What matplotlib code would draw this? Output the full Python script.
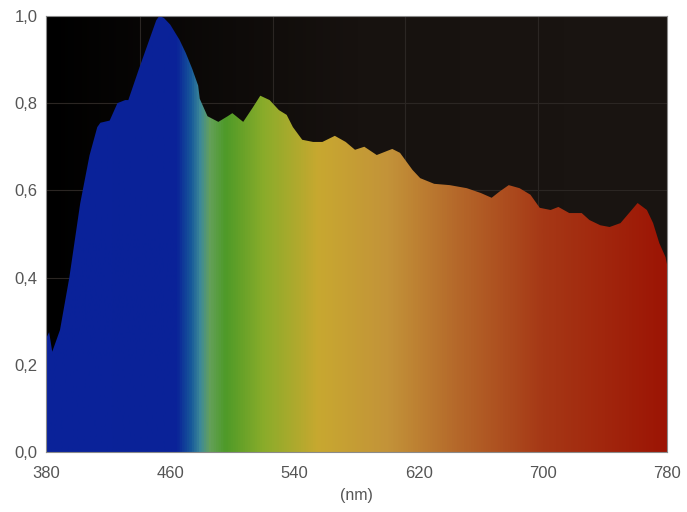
import numpy as np
import matplotlib.pyplot as plt
from matplotlib.colors import LinearSegmentedColormap

plt.rcParams['font.family'] = ['Liberation Sans', 'DejaVu Sans']

# spectrum (wavelength nm, relative intensity)
wavelength = [380, 382, 384, 386, 389, 395, 402, 408, 413, 415, 421, 426, 431, 433,
              440, 447, 451, 453, 456, 460, 466, 470, 474, 478, 479, 484, 491, 497,
              500, 507, 513, 518, 524, 530, 535, 539, 545, 552, 558, 566, 573, 579,
              585, 593, 603, 608, 616, 621, 630, 640, 651, 660, 667, 672, 678, 685,
              692, 698, 705, 710, 717, 725, 730, 737, 743, 750, 756, 761, 767, 771,
              775, 779, 780]
intensity = [0.26, 0.275, 0.23, 0.25, 0.28, 0.40, 0.57, 0.68, 0.745, 0.755, 0.76, 0.80,
             0.807, 0.807, 0.88, 0.95, 0.99, 1.0, 0.995, 0.98, 0.945, 0.915, 0.88, 0.84,
             0.81, 0.77, 0.757, 0.77, 0.777, 0.757, 0.789, 0.817, 0.807, 0.784, 0.773,
             0.745, 0.716, 0.711, 0.711, 0.725, 0.711, 0.693, 0.70, 0.681, 0.695, 0.686,
             0.647, 0.628, 0.615, 0.612, 0.605, 0.594, 0.583, 0.597, 0.612, 0.605, 0.59,
             0.56, 0.555, 0.562, 0.548, 0.548, 0.532, 0.52, 0.516, 0.525, 0.55, 0.571,
             0.555, 0.525, 0.479, 0.447, 0.43]

# colour stops of the rainbow fill
stop_nm = [380, 464, 473, 479, 485, 495, 520, 555, 600, 645, 700, 780]
stop_col = ['#0a229a', '#0a2398', '#17599a', '#3e8a98', '#64a05a', '#4e9a28',
            '#8aac2a', '#c8a830', '#c39339', '#b5682a', '#a63816', '#9c1404']

xticks = [380, 460, 540, 620, 700, 780]
yticks = [0.0, 0.2, 0.4, 0.6, 0.8, 1.0]
vgrid = [440.5, 526, 611, 697]

fig = plt.figure(figsize=(6.87, 5.12), dpi=100)
ax = fig.add_axes([0.067, 0.117, 0.904, 0.852])
ax.set_xlim(380, 780)
ax.set_ylim(0, 1.0)

# dark background, slightly warmer on the right
bg = LinearSegmentedColormap.from_list('bg', ['#000000', '#17120f', '#1a1512'])
ax.imshow(np.linspace(0, 1, 256)[None, :], cmap=bg, aspect='auto',
          extent=[380, 780, 0, 1], zorder=0)

for v in yticks[1:-1]:
    ax.axhline(v, color='#2b2623', lw=0.8, zorder=1)
for v in vgrid:
    ax.axvline(v, color='#2b2623', lw=0.8, zorder=1)

# rainbow fill clipped to the spectrum
lo, hi = stop_nm[0], stop_nm[-1]
cmap = LinearSegmentedColormap.from_list(
    'spec', [((n - lo) / (hi - lo), c) for n, c in zip(stop_nm, stop_col)])
poly = ax.fill_between(wavelength, intensity, 0, color='none', lw=0)
img = ax.imshow(np.linspace(0, 1, 512)[None, :], cmap=cmap, aspect='auto',
                extent=[380, 780, 0, 1], zorder=2)
img.set_clip_path(poly.get_paths()[0], transform=ax.transData)

ax.set_xticks(xticks)
ax.set_yticks(yticks)
ax.set_yticklabels([f'{v:.1f}'.replace('.', ',') for v in yticks])
ax.tick_params(length=0, colors='#555555', labelsize=12)
ax.tick_params(axis='x', pad=10)
ax.tick_params(axis='y', pad=6)
ax.set_xlabel('(nm)', color='#555555', fontsize=11.5, labelpad=5)
for s in ax.spines.values():
    s.set_color('#8a8a8a')
    s.set_linewidth(0.8)

fig.savefig('out.png', dpi=100)
